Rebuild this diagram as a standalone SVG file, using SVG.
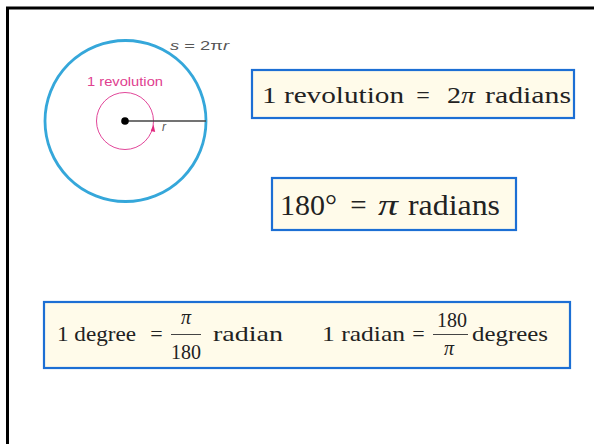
<svg xmlns="http://www.w3.org/2000/svg" width="594" height="444" viewBox="0 0 594 444">
<style>
.box{fill:#fffbea;stroke:#1c6fd4;stroke-width:2.2}
.ser{font-family:"Liberation Serif","Times New Roman",serif;fill:#222}
.it{font-style:italic}
.sans{font-family:"Liberation Sans",Arial,sans-serif}
.fl{stroke:#444;stroke-width:1}
</style>
<rect width="594" height="444" fill="#fff"/>
<path d="M7.5 444 V8 H594" fill="none" stroke="#000" stroke-width="3"/>
<g id="circle-figure">
<circle cx="125.5" cy="121" r="80.5" fill="none" stroke="#35a7da" stroke-width="2.8"/>
<circle cx="125" cy="121" r="28.5" fill="none" stroke="#e2479a" stroke-width="1"/>
<path d="M150.8 131 L153.5 124.5 L155.2 132 Z" fill="#e2297f"/>
<line x1="125" y1="121" x2="206" y2="121" stroke="#444" stroke-width="1.3"/>
<circle cx="125" cy="121" r="3.8" fill="#000"/>
<text x="162" y="131" class="sans it" font-size="12" fill="#555">r</text>
<text x="125" y="86" class="sans" font-size="13" fill="#e0418f" text-anchor="middle" textLength="76" lengthAdjust="spacingAndGlyphs">1 revolution</text>
<text x="170" y="50" class="sans" font-size="12" fill="#555" textLength="59" lengthAdjust="spacingAndGlyphs"><tspan font-style="italic">s</tspan> = 2π<tspan font-style="italic">r</tspan></text>
</g>
<g id="box-revolution">
<rect class="box" x="252" y="70" width="322" height="48"/>
<text x="262" y="103" class="ser" font-size="24" textLength="142" lengthAdjust="spacingAndGlyphs">1 revolution</text>
<text x="423" y="103" class="ser" font-size="24" text-anchor="middle">=</text>
<text x="447" y="103" class="ser" font-size="24" textLength="28" lengthAdjust="spacingAndGlyphs">2<tspan class="it">π</tspan></text>
<text x="485" y="103" class="ser" font-size="24" textLength="86" lengthAdjust="spacingAndGlyphs">radians</text>
</g>
<g id="box-180">
<rect class="box" x="272" y="178" width="244" height="52"/>
<text x="280" y="215" class="ser" font-size="29" textLength="57" lengthAdjust="spacingAndGlyphs">180°</text>
<text x="358.5" y="215" class="ser" font-size="29" text-anchor="middle">=</text>
<text x="378" y="215" class="ser it" font-size="29" textLength="20" lengthAdjust="spacingAndGlyphs">π</text>
<text x="408" y="215" class="ser" font-size="29" textLength="92" lengthAdjust="spacingAndGlyphs">radians</text>
</g>
<g id="box-conversions">
<rect class="box" x="44" y="302" width="526" height="66"/>
<text x="57" y="341" class="ser" font-size="22" textLength="79" lengthAdjust="spacingAndGlyphs">1 degree</text>
<text x="156.5" y="341" class="ser" font-size="22" text-anchor="middle">=</text>
<text x="186" y="324" class="ser it" font-size="20" text-anchor="middle">π</text>
<line class="fl" x1="171" y1="334.5" x2="201" y2="334.5"/>
<text x="186" y="359" class="ser" font-size="21" text-anchor="middle" textLength="30" lengthAdjust="spacingAndGlyphs">180</text>
<text x="213" y="341" class="ser" font-size="22" textLength="70" lengthAdjust="spacingAndGlyphs">radian</text>
<text x="322" y="341" class="ser" font-size="22" textLength="83" lengthAdjust="spacingAndGlyphs">1 radian</text>
<text x="418.5" y="341" class="ser" font-size="22" text-anchor="middle">=</text>
<text x="452" y="327" class="ser" font-size="21" text-anchor="middle" textLength="30" lengthAdjust="spacingAndGlyphs">180</text>
<line class="fl" x1="433" y1="334.5" x2="468" y2="334.5"/>
<text x="449" y="355" class="ser it" font-size="20" text-anchor="middle">π</text>
<text x="472" y="341" class="ser" font-size="22" textLength="76" lengthAdjust="spacingAndGlyphs">degrees</text>
</g>
</svg>
